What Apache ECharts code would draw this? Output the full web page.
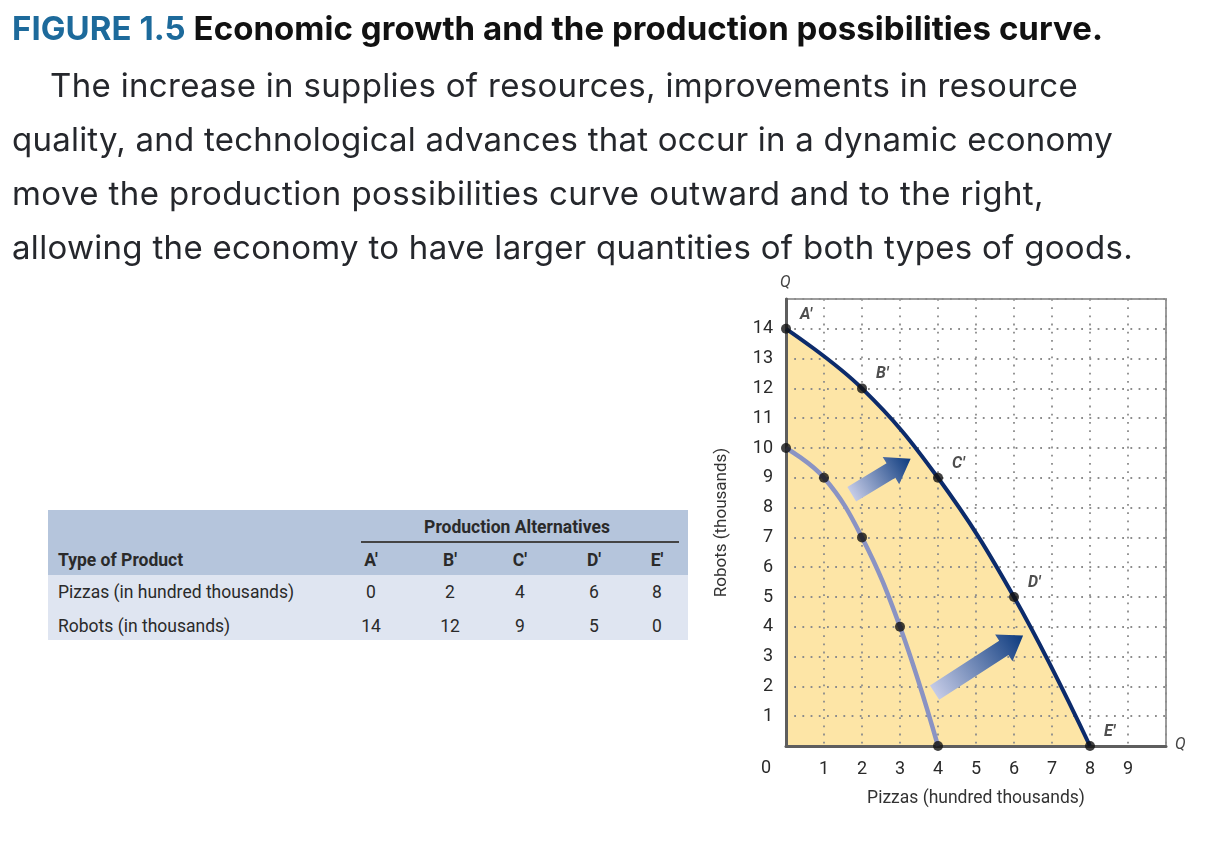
<!DOCTYPE html>
<html>
<head>
<meta charset="utf-8">
<script src="https://cdn.jsdelivr.net/npm/echarts@6/dist/echarts.min.js"></script>
<style>
html, body { margin: 0; padding: 0; width: 1210px; height: 850px; background: #fff; overflow: hidden; }
#chart { position: absolute; left: 0; top: 0; width: 1210px; height: 850px; }
.fit { display: inline-block; white-space: nowrap; }
.title {
  position: absolute; left: 12px; top: 8px; height: 40px; line-height: 40px;
  font-family: Inter, sans-serif; font-weight: bold; font-size: 31px;
  color: #111; white-space: nowrap;
}
.title .fig { color: #1d6a9b; }
.para {
  position: absolute; left: 12px; top: 58px;
  font-family: Inter, sans-serif; font-size: 30px; line-height: 54px;
  color: #25272c; white-space: nowrap;
}
.para .ln { display: block; height: 54px; }
.tbl {
  position: absolute; left: 48px; top: 510px; width: 640px; height: 130px;
  font-family: Roboto, sans-serif; font-size: 17.5px; color: #2a2a2a;
}
.tbl .bg-head { position: absolute; left: 0; top: 0; width: 640px; height: 65px; background: #b5c5dc; }
.tbl .bg-body { position: absolute; left: 0; top: 65px; width: 640px; height: 65px; background: #dfe5f1; }
.tbl .cell { position: absolute; white-space: nowrap; transform: translate(-50%, -50%); }
.tbl .lab { position: absolute; white-space: nowrap; transform: translateY(-50%); left: 10px; }
.tbl .b { font-weight: bold; }
.tbl .rule { position: absolute; left: 313px; top: 31px; width: 318px; height: 2px; background: #444; }
</style>
</head>
<body>
<div id="chart"></div>
<div class="title"><span class="fit" data-w="1091"><span class="fig">FIGURE 1.5</span> Economic growth and the production possibilities curve.</span></div>
<div class="para">
  <div class="ln" style="padding-left:38px"><span class="fit" data-w="1028">The increase in supplies of resources, improvements in resource</span></div>
  <div class="ln"><span class="fit" data-w="1101">quality, and technological advances that occur in a dynamic economy</span></div>
  <div class="ln"><span class="fit" data-w="1032">move the production possibilities curve outward and to the right,</span></div>
  <div class="ln"><span class="fit" data-w="1121">allowing the economy to have larger quantities of both types of goods.</span></div>
</div>
<div class="tbl" id="tbl"></div>
<script>
// production alternatives (outer curve, from the table)
const altNames = ['A′', 'B′', 'C′', 'D′', 'E′'];
const pizzasNew = [0, 2, 4, 6, 8];
const robotsNew = [14, 12, 9, 5, 0];

// original curve before growth
const pizzasOld = [0, 1, 2, 3, 4];
const robotsOld = [10, 9, 7, 4, 0];

// growth arrows (tail -> head, in data units)
const arrowFromX = [1.73, 3.91];
const arrowFromY = [8.45, 1.79];
const arrowToX = [3.28, 6.24];
const arrowToY = [9.64, 3.71];

const rowLabels = ['Pizzas (in hundred thousands)', 'Robots (in thousands)'];

// size text so lines match the printed widths: font size from one line, small spacing for the rest
function fitBlock(box, refIndex, maxSize) {
  const lines = Array.from(box.querySelectorAll('.fit'));
  const ref = lines[refIndex];
  const base = parseFloat(getComputedStyle(box).fontSize);
  let size = base * (+ref.dataset.w) / ref.getBoundingClientRect().width;
  if (size > maxSize) size = maxSize;
  box.style.fontSize = size + 'px';
  lines.forEach(el => {
    const natural = el.getBoundingClientRect().width;
    el.style.letterSpacing = ((+el.dataset.w - natural) / el.textContent.length) + 'px';
  });
}
fitBlock(document.querySelector('.title'), 0, 33);
fitBlock(document.querySelector('.para'), 1, 33);

// --- table built from the same arrays ---
const tbl = document.getElementById('tbl');
const colX = [323, 402, 472, 546, 609];
let html = '<div class="bg-head"></div><div class="bg-body"></div><div class="rule"></div>';
html += '<div class="cell b" style="left:469px;top:17px">Production Alternatives</div>';
html += '<div class="lab b" style="top:50px">Type of Product</div>';
html += '<div class="lab" style="top:82px">' + rowLabels[0] + '</div>';
html += '<div class="lab" style="top:116px">' + rowLabels[1] + '</div>';
altNames.forEach((n, i) => {
  html += '<div class="cell b" style="left:' + colX[i] + 'px;top:50px">' + n + '</div>';
  html += '<div class="cell" style="left:' + colX[i] + 'px;top:82px">' + pizzasNew[i] + '</div>';
  html += '<div class="cell" style="left:' + colX[i] + 'px;top:116px">' + robotsNew[i] + '</div>';
});
tbl.innerHTML = html;

// --- chart ---
const chart = echarts.init(document.getElementById('chart'));
const zip = (xs, ys) => xs.map((x, i) => [x, ys[i]]);
const arrowData = arrowFromX.map((x, i) => [x, arrowFromY[i], arrowToX[i], arrowToY[i]]);

const dotted = { color: '#8c8c8c', type: [1.8, 6.4], width: 1.8 };

const option = {
  animation: false,
  grid: {
    left: 786, top: 299, width: 380, height: 447,
    show: true, borderColor: '#9c9c9c', borderWidth: 2, backgroundColor: 'transparent'
  },
  xAxis: {
    type: 'value', min: 0, max: 10, interval: 1, z: 2,
    name: 'Pizzas (hundred thousands)', nameLocation: 'middle', nameGap: 44,
    nameTextStyle: { fontFamily: 'Roboto', fontSize: 17.5, color: '#333' },
    axisLine: { show: true, lineStyle: { color: '#5e5e5e', width: 3 } },
    axisTick: { show: false },
    axisLabel: {
      margin: 14, fontFamily: 'Roboto', fontSize: 18, color: '#2a2a2a',
      formatter: v => (v === 0 || v === 10) ? '' : v
    },
    splitLine: { show: true, lineStyle: dotted }
  },
  yAxis: {
    type: 'value', min: 0, max: 15, interval: 1, z: 2,
    name: 'Robots (thousands)', nameLocation: 'middle', nameGap: 56, nameRotate: 90,
    nameTextStyle: { fontFamily: 'Roboto', fontSize: 17, color: '#333' },
    axisLine: { show: true, lineStyle: { color: '#5e5e5e', width: 3 } },
    axisTick: { show: false },
    axisLabel: {
      margin: 13, fontFamily: 'Roboto', fontSize: 18, color: '#2a2a2a',
      formatter: v => (v === 0 || v === 15) ? '' : v
    },
    splitLine: { show: true, lineStyle: dotted }
  },
  graphic: [
    { type: 'text', left: 761, top: 759, style: { text: '0', font: '18px Roboto', fill: '#2a2a2a' } },
    { type: 'text', left: 780, top: 275, style: { text: 'Q', font: 'italic 16px Roboto', fill: '#444' } },
    { type: 'text', left: 1175, top: 737, style: { text: 'Q', font: 'italic 16px Roboto', fill: '#444' } }
  ],
  series: [
    {
      name: 'fill', type: 'line', z: 1, smooth: 0.4, showSymbol: false, silent: true,
      data: zip(pizzasNew, robotsNew),
      lineStyle: { width: 0 },
      areaStyle: { color: '#fde5a6', opacity: 1 }
    },
    {
      name: 'growth', type: 'custom', z: 3, silent: true,
      data: arrowData,
      renderItem: function (params, api) {
        const p0 = api.coord([api.value(0), api.value(1)]);
        const p1 = api.coord([api.value(2), api.value(3)]);
        const dx = p1[0] - p0[0], dy = p1[1] - p0[1];
        const len = Math.sqrt(dx * dx + dy * dy);
        const ux = dx / len, uy = dy / len, nx = -uy, ny = ux;
        const shaft = 8.5, head = 16, headLen = 23;
        const b = [p1[0] - ux * headLen, p1[1] - uy * headLen];
        const pts = [
          [p0[0] + nx * shaft, p0[1] + ny * shaft],
          [b[0] + nx * shaft, b[1] + ny * shaft],
          [b[0] + nx * head, b[1] + ny * head],
          p1,
          [b[0] - nx * head, b[1] - ny * head],
          [b[0] - nx * shaft, b[1] - ny * shaft],
          [p0[0] - nx * shaft, p0[1] - ny * shaft]
        ];
        return {
          type: 'polygon',
          shape: { points: pts },
          style: {
            fill: new echarts.graphic.LinearGradient(p0[0], p0[1], p1[0], p1[1], [
              { offset: 0, color: '#c5cbe6' },
              { offset: 1, color: '#0c3a7e' }
            ], true)
          }
        };
      }
    },
    {
      name: 'old', type: 'line', z: 4, smooth: 0.4, showSymbol: false, silent: true,
      data: zip(pizzasOld, robotsOld),
      lineStyle: { color: '#8a93c3', width: 4.5 }
    },
    {
      name: 'new', type: 'line', z: 4, smooth: 0.4, showSymbol: false, silent: true,
      data: zip(pizzasNew, robotsNew),
      lineStyle: { color: '#0c2b6b', width: 4 }
    },
    {
      name: 'oldPts', type: 'scatter', z: 5, symbolSize: 10, silent: true,
      data: zip(pizzasOld, robotsOld),
      itemStyle: { color: '#111' }
    },
    {
      name: 'newPts', type: 'scatter', z: 5, symbolSize: 10, silent: true,
      data: zip(pizzasNew, robotsNew),
      itemStyle: { color: '#111' },
      label: {
        show: true, position: 'right', offset: [4, -14],
        formatter: p => altNames[p.dataIndex],
        fontFamily: 'Roboto', fontStyle: 'italic', fontWeight: 'bold', fontSize: 16, color: '#222'
      }
    }
  ]
};
chart.setOption(option);
</script>
</body>
</html>
